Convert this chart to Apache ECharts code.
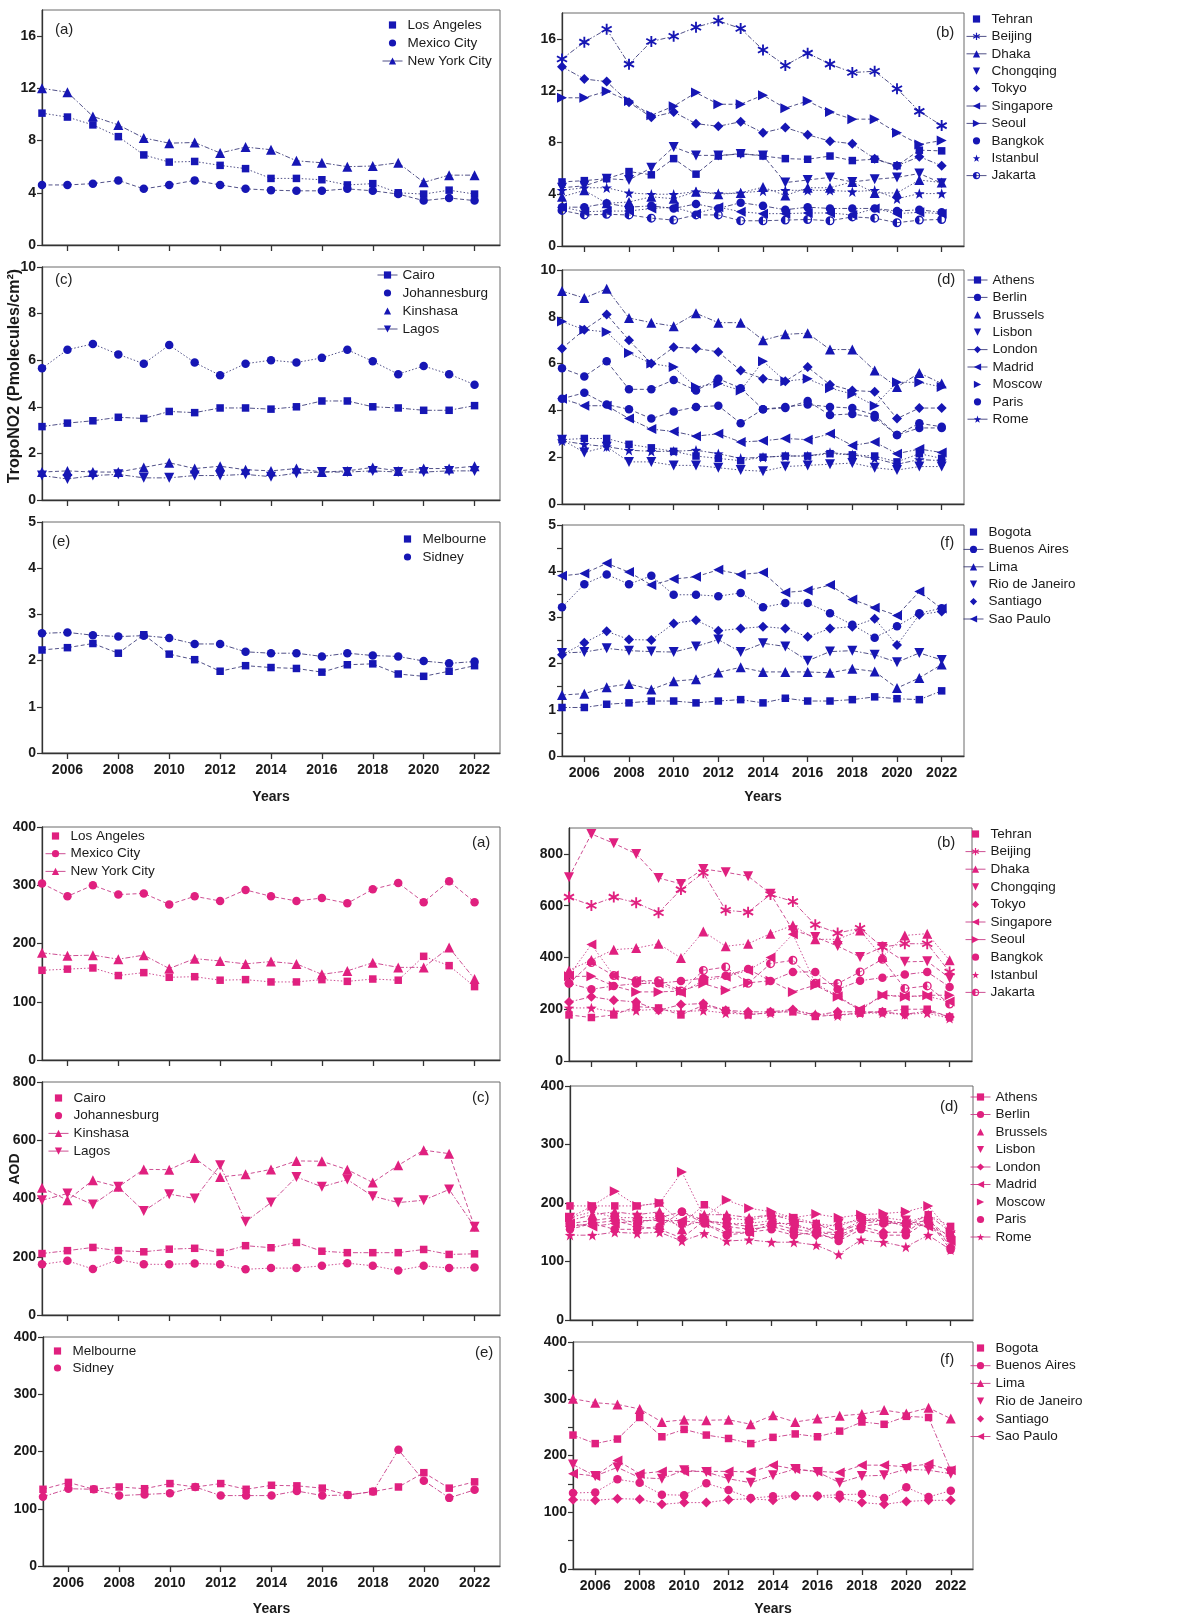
<!DOCTYPE html>
<html>
<head>
<meta charset="utf-8">
<title>TropoNO2 and AOD trends in megacities, 2005-2022</title>
<script src="https://cdn.jsdelivr.net/npm/echarts@6/dist/echarts.min.js"></script>
<style>
  html, body { margin: 0; padding: 0; background: #ffffff; }
  #no2 { position: absolute; left: 0; top: 0; width: 1182px; height: 805px; }
  #aod { position: absolute; left: 0; top: 805px; width: 1182px; height: 812px; }
</style>
</head>
<body>
<div id="no2"></div>
<div id="aod"></div>
<script>
// ---- years and axis ticks ----
const years = [2005, 2006, 2007, 2008, 2009, 2010, 2011, 2012, 2013, 2014, 2015, 2016, 2017, 2018, 2019, 2020, 2021, 2022];
const yearTicks = [2006, 2008, 2010, 2012, 2014, 2016, 2018, 2020, 2022];

// ---- tropospheric NO2 (Pmolecules/cm2) ----
// (a) North America
const no2LosAngeles = [10.1, 9.8, 9.2, 8.3, 6.9, 6.35, 6.4, 6.1, 5.85, 5.1, 5.1, 5.0, 4.6, 4.7, 4.0, 3.9, 4.2, 3.9];
const no2MexicoCity = [4.6, 4.6, 4.7, 4.95, 4.3, 4.6, 4.95, 4.6, 4.3, 4.2, 4.15, 4.15, 4.3, 4.15, 3.9, 3.4, 3.6, 3.4];
const no2NewYork = [12.0, 11.7, 9.85, 9.2, 8.2, 7.8, 7.85, 7.05, 7.5, 7.3, 6.45, 6.3, 6.0, 6.05, 6.3, 4.8, 5.35, 5.35];
// (b) Asia
const no2Tehran = [4.95, 5.05, 5.2, 5.75, 5.5, 6.75, 5.55, 6.95, 7.15, 6.95, 6.75, 6.7, 6.95, 6.6, 6.7, 6.2, 7.4, 7.35];
const no2Beijing = [14.45, 15.75, 16.75, 14.05, 15.8, 16.2, 16.9, 17.4, 16.8, 15.15, 13.95, 14.9, 14.05, 13.4, 13.5, 12.15, 10.4, 9.3];
const no2Dhaka = [3.8, 4.3, 3.3, 3.4, 3.8, 3.65, 4.2, 4.0, 4.1, 4.55, 3.9, 4.5, 4.5, 4.95, 4.1, 4.1, 5.1, 4.9];
const no2Chongqing = [4.5, 4.65, 5.2, 5.1, 6.05, 7.65, 7.0, 7.0, 7.1, 7.0, 4.9, 5.1, 5.3, 4.95, 5.15, 5.3, 5.6, 4.85];
const no2Tokyo = [13.85, 12.9, 12.7, 11.1, 9.95, 10.35, 9.45, 9.25, 9.6, 8.75, 9.15, 8.6, 8.1, 7.9, 6.75, 6.2, 6.9, 6.2];
const no2Singapore = [3.0, 2.65, 2.7, 2.7, 2.9, 3.0, 2.5, 3.0, 2.65, 2.5, 2.5, 2.55, 2.55, 2.4, 2.9, 2.5, 2.6, 2.5];
const no2Seoul = [11.45, 11.45, 11.95, 11.2, 10.1, 10.8, 11.85, 10.95, 10.95, 11.65, 10.65, 11.2, 10.35, 9.8, 9.8, 8.75, 7.85, 8.15];
const no2Bangkok = [3.0, 3.0, 3.3, 3.0, 3.1, 2.9, 3.25, 2.9, 3.35, 3.1, 2.8, 3.0, 2.9, 2.9, 2.9, 2.7, 2.8, 2.6];
const no2Istanbul = [4.3, 4.5, 4.5, 4.1, 4.0, 4.0, 4.2, 4.05, 4.1, 4.25, 4.3, 4.3, 4.3, 4.2, 4.3, 3.65, 4.05, 4.05];
const no2Jakarta = [2.75, 2.4, 2.45, 2.4, 2.15, 2.0, 2.4, 2.4, 1.95, 1.95, 2.0, 2.05, 1.95, 2.25, 2.15, 1.8, 2.0, 2.05];
// (c) Africa
const no2Cairo = [3.15, 3.3, 3.4, 3.55, 3.5, 3.8, 3.75, 3.95, 3.95, 3.9, 4.0, 4.25, 4.25, 4.0, 3.95, 3.85, 3.85, 4.05];
const no2Johannesburg = [5.65, 6.45, 6.7, 6.25, 5.85, 6.65, 5.9, 5.35, 5.85, 6.0, 5.9, 6.1, 6.45, 5.95, 5.4, 5.75, 5.4, 4.95];
const no2Kinshasa = [1.2, 1.25, 1.2, 1.2, 1.4, 1.6, 1.35, 1.45, 1.3, 1.25, 1.35, 1.2, 1.25, 1.4, 1.25, 1.35, 1.35, 1.45];
const no2Lagos = [1.05, 0.9, 1.05, 1.1, 0.95, 0.95, 1.05, 1.05, 1.1, 1.0, 1.15, 1.2, 1.2, 1.25, 1.2, 1.2, 1.25, 1.25];
// (d) Europe
const no2Athens = [2.75, 2.8, 2.8, 2.55, 2.4, 2.25, 2.05, 1.95, 1.85, 2.0, 2.05, 2.05, 2.15, 2.1, 2.05, 1.8, 2.15, 1.95];
const no2Berlin = [4.5, 4.75, 4.25, 4.05, 3.65, 3.95, 4.15, 4.2, 3.45, 4.05, 4.15, 4.25, 4.15, 4.1, 3.8, 2.95, 3.25, 3.25];
const no2Brussels = [9.1, 8.8, 9.2, 7.95, 7.75, 7.6, 8.15, 7.75, 7.75, 7.0, 7.25, 7.3, 6.6, 6.6, 5.7, 5.0, 5.6, 5.15];
const no2Lisbon = [2.75, 2.2, 2.45, 1.8, 1.8, 1.65, 1.65, 1.55, 1.45, 1.4, 1.6, 1.65, 1.7, 1.75, 1.55, 1.45, 1.6, 1.6];
const no2London = [6.65, 7.45, 8.1, 7.0, 6.0, 6.7, 6.65, 6.5, 5.7, 5.35, 5.25, 5.85, 5.1, 4.85, 4.8, 3.65, 4.1, 4.1];
const no2Madrid = [4.5, 4.2, 4.2, 3.65, 3.2, 3.1, 2.9, 3.0, 2.65, 2.7, 2.8, 2.75, 3.0, 2.5, 2.65, 2.15, 2.35, 2.2];
const no2Moscow = [7.8, 7.45, 7.35, 6.45, 6.0, 5.85, 5.0, 5.15, 4.85, 6.1, 5.25, 5.35, 4.95, 4.7, 4.2, 5.2, 5.2, 5.0];
const no2Paris = [5.8, 5.45, 6.1, 4.9, 4.9, 5.3, 4.85, 5.35, 4.95, 4.05, 4.1, 4.4, 3.8, 3.85, 3.7, 2.95, 3.45, 3.3];
const no2Rome = [2.7, 2.55, 2.45, 2.3, 2.25, 2.25, 2.3, 2.15, 1.95, 2.0, 2.05, 2.05, 2.2, 2.1, 1.95, 1.7, 1.9, 1.85];
// (e) Oceania
const no2Melbourne = [2.23, 2.28, 2.37, 2.16, 2.56, 2.14, 2.02, 1.77, 1.89, 1.85, 1.83, 1.75, 1.91, 1.93, 1.71, 1.66, 1.77, 1.89];
const no2Sidney = [2.59, 2.61, 2.55, 2.52, 2.54, 2.49, 2.36, 2.36, 2.19, 2.16, 2.16, 2.09, 2.16, 2.11, 2.09, 1.99, 1.94, 1.98];
// (f) South America
const no2Bogota = [1.05, 1.05, 1.12, 1.15, 1.19, 1.19, 1.15, 1.19, 1.22, 1.15, 1.25, 1.19, 1.19, 1.22, 1.28, 1.24, 1.22, 1.41];
const no2BuenosAires = [3.22, 3.72, 3.93, 3.72, 3.9, 3.49, 3.49, 3.46, 3.53, 3.22, 3.31, 3.31, 3.09, 2.84, 2.56, 2.81, 3.09, 3.2];
const no2Lima = [1.32, 1.35, 1.49, 1.56, 1.44, 1.62, 1.66, 1.81, 1.92, 1.82, 1.82, 1.82, 1.8, 1.89, 1.83, 1.47, 1.69, 1.98];
const no2Rio = [2.23, 2.25, 2.33, 2.28, 2.26, 2.25, 2.37, 2.52, 2.25, 2.44, 2.37, 2.06, 2.26, 2.28, 2.19, 2.03, 2.23, 2.08];
const no2Santiago = [2.19, 2.45, 2.7, 2.52, 2.51, 2.87, 2.94, 2.71, 2.76, 2.8, 2.76, 2.58, 2.76, 2.8, 2.97, 2.4, 3.06, 3.13];
const no2SaoPaulo = [3.9, 3.95, 4.17, 3.98, 3.7, 3.83, 3.88, 4.03, 3.93, 3.97, 3.54, 3.58, 3.7, 3.39, 3.21, 3.04, 3.56, 3.19];

// ---- AOD ----
// (a) North America
const aodLosAngeles = [154, 156, 158, 145, 150, 142, 143, 137, 138, 134, 134, 138, 135, 139, 137, 178, 162, 126];
const aodMexicoCity = [303, 281, 300, 284, 286, 267, 281, 273, 292, 281, 273, 278, 269, 293, 304, 271, 307, 271];
const aodNewYork = [184, 179, 180, 173, 180, 157, 174, 170, 165, 169, 165, 147, 153, 167, 159, 159, 193, 139];
// (b) Asia
const aodTehran = [178, 168, 178, 210, 205, 178, 215, 195, 178, 188, 190, 172, 178, 185, 190, 200, 200, 170];
const aodBeijing = [633, 601, 633, 611, 573, 662, 727, 582, 575, 643, 616, 526, 494, 513, 440, 453, 453, 344];
const aodDhaka = [350, 390, 430, 436, 453, 398, 500, 443, 453, 492, 524, 470, 470, 504, 402, 485, 492, 389];
const aodChongqing = [710, 877, 841, 800, 707, 684, 742, 729, 714, 646, 505, 479, 444, 402, 440, 383, 385, 321];
const aodTokyo = [228, 248, 235, 228, 196, 218, 222, 196, 190, 190, 199, 177, 190, 190, 190, 180, 193, 171];
const aodSingapore = [330, 450, 330, 310, 300, 265, 310, 325, 350, 400, 490, 300, 250, 200, 255, 250, 250, 230];
const aodSeoul = [327, 327, 290, 267, 267, 270, 299, 273, 302, 310, 267, 293, 248, 196, 254, 248, 254, 254];
const aodBangkok = [300, 277, 290, 299, 300, 309, 320, 329, 355, 309, 344, 344, 277, 310, 322, 334, 344, 286];
const aodIstanbul = [205, 205, 190, 195, 200, 190, 195, 185, 180, 185, 195, 180, 175, 185, 185, 180, 185, 165];
const aodJakarta = [300, 380, 330, 310, 310, 270, 350, 363, 300, 376, 389, 300, 299, 344, 393, 280, 290, 220];
// (c) Africa
const aodCairo = [211, 221, 232, 221, 217, 226, 229, 215, 238, 231, 249, 219, 214, 214, 214, 225, 208, 210];
const aodJohannesburg = [174, 186, 158, 190, 174, 174, 177, 174, 157, 161, 161, 169, 178, 169, 153, 169, 161, 163];
const aodKinshasa = [437, 394, 463, 440, 500, 499, 539, 474, 483, 500, 529, 528, 499, 455, 514, 566, 554, 303];
const aodLagos = [394, 417, 379, 440, 357, 415, 400, 514, 320, 386, 474, 440, 465, 408, 386, 394, 431, 303];
// (d) Europe
const aodAthens = [195, 195, 195, 195, 200, 165, 197, 175, 170, 180, 175, 165, 160, 175, 170, 165, 180, 160];
const aodBerlin = [165, 170, 175, 165, 175, 185, 170, 165, 160, 165, 155, 150, 145, 160, 165, 165, 170, 140];
const aodBrussels = [170, 180, 185, 180, 185, 155, 180, 180, 175, 180, 170, 165, 150, 165, 170, 160, 180, 150];
const aodLisbon = [175, 185, 175, 175, 175, 160, 170, 165, 165, 170, 160, 155, 165, 170, 175, 170, 160, 145];
const aodLondon = [160, 165, 170, 160, 155, 140, 170, 160, 155, 160, 150, 145, 140, 160, 150, 150, 175, 125];
const aodMadrid = [165, 160, 165, 170, 170, 170, 165, 150, 150, 165, 165, 150, 150, 170, 170, 165, 160, 135];
const aodMoscow = [175, 195, 220, 195, 200, 253, 175, 205, 191, 185, 175, 181, 175, 180, 182, 185, 195, 150];
const aodParis = [155, 165, 155, 155, 160, 185, 165, 145, 150, 155, 145, 150, 135, 155, 145, 145, 170, 120];
const aodRome = [145, 145, 150, 148, 150, 135, 148, 135, 137, 133, 133, 128, 112, 137, 133, 125, 145, 120];
// (e) Oceania
const aodMelbourne = [134, 146, 134, 138, 135, 144, 138, 144, 134, 141, 140, 136, 124, 130, 138, 163, 136, 147];
const aodSidney = [121, 135, 134, 123, 125, 127, 138, 123, 123, 123, 131, 123, 124, 130, 203, 149, 119, 133];
// (f) South America
const aodBogota = [236, 221, 229, 267, 233, 246, 236, 230, 221, 232, 238, 233, 243, 259, 255, 269, 267, 174];
const aodBuenosAires = [134, 135, 158, 152, 131, 130, 151, 139, 125, 128, 129, 129, 131, 132, 125, 144, 127, 138];
const aodLima = [300, 293, 290, 282, 259, 263, 262, 263, 255, 271, 259, 265, 270, 273, 280, 274, 284, 265];
const aodRio = [184, 164, 179, 161, 159, 174, 171, 159, 152, 165, 176, 171, 152, 164, 165, 176, 174, 168];
const aodSantiago = [122, 121, 124, 123, 114, 117, 117, 122, 124, 121, 129, 128, 125, 117, 114, 119, 121, 121];
const aodSaoPaulo = [168, 164, 191, 168, 172, 172, 172, 172, 171, 183, 176, 172, 170, 183, 183, 180, 185, 174];

// ---- marker shapes ----
const SYMBOLS = {
  square: 'rect',
  circle: 'circle',
  diamond: 'diamond',
  up: 'path://M10 0L20 18L0 18Z',
  down: 'path://M0 0L20 0L10 18Z',
  left: 'path://M0 10L18 0L18 20Z',
  right: 'path://M0 0L18 10L0 20Z',
  star: 'path://M10 0L12.35 6.76L19.51 6.91L13.8 11.24L15.88 18.09L10 14L4.12 18.09L6.2 11.24L0.49 6.91L7.65 6.76Z',
  asterisk: 'path://M8.4 0L11.6 0L11.6 20L8.4 20Z M0.54 6.39L2.14 3.61L19.46 13.61L17.86 16.39Z M2.14 16.39L0.54 13.61L17.86 3.61L19.46 6.39Z',
  half: 'path://M10 0A10 10 0 1 1 10 20A10 10 0 1 1 10 0Z M10 3A7 7 0 1 0 10 17A7 7 0 1 0 10 3Z M10 3A7 7 0 0 0 10 17Z'
};
const SIZES = { square: 7.5, circle: 8.5, diamond: 10, up: 10, down: 10, left: 10, right: 10, star: 10.5, asterisk: 11, half: 9 };
const DASHES = [[1.5, 2], [4, 2.5], [5, 2, 1.5, 2]];
const FONT = '"Liberation Sans", Arial, Helvetica, sans-serif';

// each series: [name, values, marker, legend shows a line]
const no2Panels = [
  { grid: [42, 10, 458, 235], yMax: 18, yLabels: [0, 4, 8, 12, 16], yTicks: [0, 4, 8, 12, 16],
    tag: '(a)', tagPos: [55, 22], legendPos: [382, 18], legendGap: 4,
    series: [['Los Angeles', no2LosAngeles, 'square', false], ['Mexico City', no2MexicoCity, 'circle', false], ['New York City', no2NewYork, 'up', true]] },
  { grid: [562, 13, 402, 233], yMax: 18, yLabels: [0, 4, 8, 12, 16], yTicks: [0, 4, 8, 12, 16],
    tag: '(b)', tagPos: [936, 25], legendPos: [966, 12], legendGap: 3.4,
    series: [['Tehran', no2Tehran, 'square', false], ['Beijing', no2Beijing, 'asterisk', true], ['Dhaka', no2Dhaka, 'up', true],
      ['Chongqing', no2Chongqing, 'down', false], ['Tokyo', no2Tokyo, 'diamond', false], ['Singapore', no2Singapore, 'left', true],
      ['Seoul', no2Seoul, 'right', true], ['Bangkok', no2Bangkok, 'circle', false], ['Istanbul', no2Istanbul, 'star', false],
      ['Jakarta', no2Jakarta, 'half', true]] },
  { grid: [42, 267, 458, 233], yMax: 10, yLabels: [0, 2, 4, 6, 8, 10], yTicks: [0, 2, 4, 6, 8, 10],
    tag: '(c)', tagPos: [55, 272], legendPos: [377, 268], legendGap: 4,
    series: [['Cairo', no2Cairo, 'square', true], ['Johannesburg', no2Johannesburg, 'circle', false],
      ['Kinshasa', no2Kinshasa, 'up', false], ['Lagos', no2Lagos, 'down', true]] },
  { grid: [562, 270, 402, 234], yMax: 10, yLabels: [0, 2, 4, 6, 8, 10], yTicks: [0, 2, 4, 6, 8, 10],
    tag: '(d)', tagPos: [937, 272], legendPos: [967, 273], legendGap: 3.4,
    series: [['Athens', no2Athens, 'square', true], ['Berlin', no2Berlin, 'circle', true], ['Brussels', no2Brussels, 'up', false],
      ['Lisbon', no2Lisbon, 'down', false], ['London', no2London, 'diamond', true], ['Madrid', no2Madrid, 'left', true],
      ['Moscow', no2Moscow, 'right', false], ['Paris', no2Paris, 'circle', false], ['Rome', no2Rome, 'star', true]] },
  { grid: [42, 522, 458, 233], yMax: 5, yLabels: [0, 1, 2, 3, 4, 5], yTicks: [0, 1, 2, 3, 4, 5],
    tag: '(e)', tagPos: [52, 534], legendPos: [397, 532], legendGap: 4, xLabels: true, nameGap: 37,
    series: [['Melbourne', no2Melbourne, 'square', false], ['Sidney', no2Sidney, 'circle', false]] },
  { grid: [562, 525, 402, 234], yMax: 5, yLabels: [0, 1, 2, 3, 4, 5], yTicks: [0, 0.5, 1, 1.5, 2, 2.5, 3, 3.5, 4, 4.5, 5],
    tag: '(f)', tagPos: [940, 535], legendPos: [963, 525], legendGap: 3.4, xLabels: true, nameGap: 34,
    series: [['Bogota', no2Bogota, 'square', false], ['Buenos Aires', no2BuenosAires, 'circle', true], ['Lima', no2Lima, 'up', true],
      ['Rio de Janeiro', no2Rio, 'down', false], ['Santiago', no2Santiago, 'diamond', false], ['Sao Paulo', no2SaoPaulo, 'left', true]] }
];

const aodPanels = [
  { grid: [42, 22, 458, 233], yMax: 400, yLabels: [0, 100, 200, 300, 400], yTicks: [0, 100, 200, 300, 400],
    tag: '(a)', tagPos: [472, 30], legendPos: [45, 24], legendGap: 3.7,
    series: [['Los Angeles', aodLosAngeles, 'square', false], ['Mexico City', aodMexicoCity, 'circle', true], ['New York City', aodNewYork, 'up', true]] },
  { grid: [569, 23, 403, 233], yMax: 900, yLabels: [0, 200, 400, 600, 800], yTicks: [0, 200, 400, 600, 800],
    tag: '(b)', tagPos: [937, 30], legendPos: [965, 22], legendGap: 3.6,
    series: [['Tehran', aodTehran, 'square', false], ['Beijing', aodBeijing, 'asterisk', true], ['Dhaka', aodDhaka, 'up', true],
      ['Chongqing', aodChongqing, 'down', false], ['Tokyo', aodTokyo, 'diamond', false], ['Singapore', aodSingapore, 'left', true],
      ['Seoul', aodSeoul, 'right', true], ['Bangkok', aodBangkok, 'circle', false], ['Istanbul', aodIstanbul, 'star', false],
      ['Jakarta', aodJakarta, 'half', true]] },
  { grid: [42, 277, 458, 233], yMax: 800, yLabels: [0, 200, 400, 600, 800], yTicks: [0, 200, 400, 600, 800],
    tag: '(c)', tagPos: [472, 285], legendPos: [48, 286], legendGap: 3.7,
    series: [['Cairo', aodCairo, 'square', false], ['Johannesburg', aodJohannesburg, 'circle', false],
      ['Kinshasa', aodKinshasa, 'up', true], ['Lagos', aodLagos, 'down', true]] },
  { grid: [570, 281, 403, 234], yMax: 400, yLabels: [0, 100, 200, 300, 400], yTicks: [0, 100, 200, 300, 400],
    tag: '(d)', tagPos: [940, 294], legendPos: [970, 285], legendGap: 3.5,
    series: [['Athens', aodAthens, 'square', true], ['Berlin', aodBerlin, 'circle', true], ['Brussels', aodBrussels, 'up', false],
      ['Lisbon', aodLisbon, 'down', false], ['London', aodLondon, 'diamond', true], ['Madrid', aodMadrid, 'left', true],
      ['Moscow', aodMoscow, 'right', false], ['Paris', aodParis, 'circle', false], ['Rome', aodRome, 'star', true]] },
  { grid: [43, 532, 457, 234], yMax: 400, yLabels: [0, 100, 200, 300, 400], yTicks: [0, 100, 200, 300, 400],
    tag: '(e)', tagPos: [475, 540], legendPos: [47, 539], legendGap: 3,
    xLabels: true, nameGap: 36,
    series: [['Melbourne', aodMelbourne, 'square', false], ['Sidney', aodSidney, 'circle', false]] },
  { grid: [573, 537, 400, 233], yMax: 400, yLabels: [0, 100, 200, 300, 400], yTicks: [0, 50, 100, 150, 200, 250, 300, 350, 400],
    tag: '(f)', tagPos: [940, 547], legendPos: [970, 536], legendGap: 3.7, xLabels: true, nameGap: 33,
    series: [['Bogota', aodBogota, 'square', false], ['Buenos Aires', aodBuenosAires, 'circle', true], ['Lima', aodLima, 'up', true],
      ['Rio de Janeiro', aodRio, 'down', false], ['Santiago', aodSantiago, 'diamond', false], ['Sao Paulo', aodSaoPaulo, 'left', true]] }
];

function buildOption(panels, markColor, lineColor, yName) {
  const grid = [], xAxis = [], yAxis = [], series = [], legend = [], title = [];
  panels.forEach((p, i) => {
    grid.push({ left: p.grid[0], top: p.grid[1], width: p.grid[2], height: p.grid[3],
      show: true, borderColor: '#6a6a6a', borderWidth: 1, backgroundColor: 'transparent' });
    xAxis.push({
      type: 'value', gridIndex: i, min: 2005, max: 2023,
      axisLine: { show: true, onZero: false, lineStyle: { color: '#333', width: 1.3 } },
      axisTick: { show: true, customValues: yearTicks, length: 6, lineStyle: { color: '#333', width: 1.3 } },
      axisLabel: { show: !!p.xLabels, customValues: yearTicks, margin: 10, formatter: v => String(v),
        fontFamily: FONT, fontWeight: 'bold', fontSize: 14, color: '#1a1a1a' },
      splitLine: { show: false },
      name: p.xLabels ? 'Years' : '', nameLocation: 'middle', nameGap: p.nameGap || 30,
      nameTextStyle: { fontFamily: FONT, fontWeight: 'bold', fontSize: 14, color: '#1a1a1a' }
    });
    yAxis.push({
      type: 'value', gridIndex: i, min: 0, max: p.yMax,
      axisLine: { show: true, onZero: false, lineStyle: { color: '#333', width: 1.3 } },
      axisTick: { show: true, customValues: p.yTicks, length: 5, lineStyle: { color: '#333', width: 1.2 } },
      axisLabel: { customValues: p.yLabels, margin: 6, formatter: v => String(v),
        fontFamily: FONT, fontWeight: 'bold', fontSize: 14, color: '#1a1a1a' },
      splitLine: { show: false }
    });
    title.push({ text: p.tag, left: p.tagPos[0], top: p.tagPos[1], padding: 0,
      textStyle: { fontFamily: FONT, fontSize: 15, fontWeight: 'normal', color: '#222' } });
    legend.push({
      orient: 'vertical', left: p.legendPos[0], top: p.legendPos[1], padding: 0,
      itemWidth: 20, itemHeight: 9, itemGap: p.legendGap, selectedMode: false,
      textStyle: { fontFamily: FONT, fontSize: 13.5, color: '#1a1a1a', lineHeight: 14 },
      lineStyle: { type: 'solid', width: 1 },
      data: p.series.map(s => s[3] ? { name: s[0] } : { name: s[0], lineStyle: { opacity: 0 } })
    });
    p.series.forEach((s, j) => {
      series.push({
        type: 'line', name: s[0], xAxisIndex: i, yAxisIndex: i,
        data: years.map((y, k) => [y, s[1][k]]),
        symbol: SYMBOLS[s[2]], symbolSize: SIZES[s[2]], showSymbol: true, clip: false,
        itemStyle: { color: markColor },
        lineStyle: { color: lineColor, width: 1, type: DASHES[(i + j) % 3] },
        emphasis: { disabled: true }, animation: false
      });
    });
  });
  return {
    animation: false, backgroundColor: '#ffffff',
    grid, xAxis, yAxis, series, legend, title,
    graphic: [{ type: 'text', x: 15, y: yName.y, rotation: Math.PI / 2,
      style: { text: yName.text, font: 'bold ' + yName.size + 'px ' + FONT, fill: '#1a1a1a', align: 'center', verticalAlign: 'middle' } }]
  };
}

const no2Chart = echarts.init(document.getElementById('no2'), null, { renderer: 'canvas' });
no2Chart.setOption(buildOption(no2Panels, '#1616b4', 'rgba(50,50,115,0.85)',
  { text: 'TropoNO2 (Pmolecules/cm\u00B2)', y: 376, size: 16 }));

const aodChart = echarts.init(document.getElementById('aod'), null, { renderer: 'canvas' });
aodChart.setOption(buildOption(aodPanels, '#e0207f', 'rgba(200,60,135,0.9)',
  { text: 'AOD', y: 364, size: 14 }));
</script>
</body>
</html>
